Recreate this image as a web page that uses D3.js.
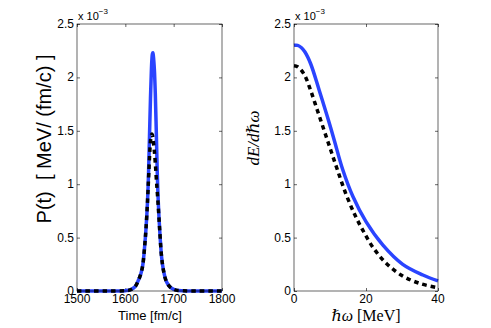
<!DOCTYPE html>
<html>
<head>
<meta charset="utf-8">
<script src="https://cdn.jsdelivr.net/npm/d3@7"></script>
<style>
  body { margin: 0; background: #fff; }
  svg text { font-family: "Liberation Sans", Arial, sans-serif; fill: #000; }
</style>
</head>
<body>
<div id="chart"></div>
<script>
// ---- data (values in units of 1e-3) ----
var timeT = [1500, 1580, 1600, 1610, 1620, 1627, 1632, 1636, 1640, 1643, 1646, 1648, 1650, 1652, 1654, 1655, 1656, 1657, 1658, 1660, 1662, 1664, 1666, 1668, 1671, 1675, 1679, 1684, 1690, 1696, 1705, 1720, 1750, 1800];
var powerBlue = [0, 0, 0.003, 0.01, 0.04, 0.1, 0.16, 0.24, 0.42, 0.6, 0.85, 1.1, 1.45, 1.8, 2.08, 2.17, 2.22, 2.23, 2.2, 2.08, 1.85, 1.5, 1.12, 0.85, 0.58, 0.32, 0.19, 0.1, 0.05, 0.025, 0.008, 0.002, 0, 0];
var powerBlack = [0, 0, 0.003, 0.01, 0.04, 0.1, 0.16, 0.24, 0.42, 0.6, 0.85, 1.05, 1.25, 1.4, 1.46, 1.47, 1.46, 1.44, 1.4, 1.31, 1.2, 1.06, 0.93, 0.8, 0.58, 0.32, 0.19, 0.1, 0.05, 0.025, 0.008, 0.002, 0, 0];

var omegaBlue = [0, 1, 2, 3, 4.6, 7, 9.3, 11.2, 13.5, 16.3, 20, 24.7, 30.2, 35.8, 40];
var spectBlue = [2.30, 2.30, 2.28, 2.24, 2.13, 1.88, 1.63, 1.41, 1.14, 0.89, 0.65, 0.43, 0.25, 0.15, 0.094];
var omegaBlack = [0, 1, 2.8, 4.6, 6.5, 8.4, 10.2, 12.1, 14.4, 16.8, 19.1, 21.9, 25.6, 30.2, 35, 40];
var spectBlack = [2.11, 2.10, 2.03, 1.88, 1.69, 1.50, 1.32, 1.13, 0.91, 0.72, 0.57, 0.41, 0.26, 0.14, 0.07, 0.03];

var yTicks = [0, 0.5, 1, 1.5, 2, 2.5];
var timeTicks = [1500, 1600, 1700, 1800];
var omegaTicks = [0, 20, 40];

var W = 491, H = 328;
var yTop = 24, yBottom = 291;

var svg = d3.select("#chart").append("svg")
    .attr("width", W)
    .attr("height", H);

var y = d3.scaleLinear().domain([0, 2.5]).range([yBottom, yTop]);

function panel(x0, x1, xDomain, xTicks, xFmt) {
  var x = d3.scaleLinear().domain(xDomain).range([x0, x1]);
  var g = svg.append("g");

  // ticks inside on all four sides
  g.append("g").attr("transform", "translate(0," + yBottom + ")")
    .call(d3.axisBottom(x).tickValues(xTicks).tickSize(-3).tickFormat(""))
    .call(a => a.select(".domain").remove());
  g.append("g").attr("transform", "translate(0," + yTop + ")")
    .call(d3.axisTop(x).tickValues(xTicks).tickSize(-3).tickFormat(""))
    .call(a => a.select(".domain").remove());
  g.append("g").attr("transform", "translate(" + x0 + ",0)")
    .call(d3.axisLeft(y).tickValues(yTicks).tickSize(-3).tickFormat(""))
    .call(a => a.select(".domain").remove());
  g.append("g").attr("transform", "translate(" + x1 + ",0)")
    .call(d3.axisRight(y).tickValues(yTicks).tickSize(-3).tickFormat(""))
    .call(a => a.select(".domain").remove());
  g.selectAll(".tick line").attr("stroke", "#000").attr("stroke-width", 0.6);

  // tick labels
  g.selectAll(".ylab").data(yTicks).enter().append("text")
    .attr("x", x0 - 3)
    .attr("y", d => y(d) + 4)
    .attr("text-anchor", "end")
    .attr("font-size", 12)
    .text(d => d);
  g.selectAll(".xlab").data(xTicks).enter().append("text")
    .attr("x", d => x(d))
    .attr("y", yBottom + 12)
    .attr("text-anchor", "middle")
    .attr("font-size", 12)
    .text(xFmt);

  // exponent
  var ex = g.append("text").attr("x", x0 + 1).attr("y", 20).attr("font-size", 11);
  ex.append("tspan").text("x 10");
  ex.append("tspan").attr("dy", -6).attr("font-size", 8).text("\u22123");

  return {x: x, g: g, x0: x0, x1: x1};
}

function drawLine(p, xs, ys, color, dash) {
  var line = d3.line()
    .x(d => p.x(d[0]))
    .y(d => y(d[1]))
    .curve(d3.curveCatmullRom.alpha(0.5));
  p.g.append("path")
    .datum(d3.zip(xs, ys))
    .attr("d", line)
    .attr("fill", "none")
    .attr("stroke", color)
    .attr("stroke-width", 3.5)
    .attr("stroke-dasharray", dash || null);
}

function box(p) {
  p.g.append("rect")
    .attr("x", p.x0).attr("y", yTop)
    .attr("width", p.x1 - p.x0).attr("height", yBottom - yTop)
    .attr("fill", "none").attr("stroke", "#000").attr("stroke-width", 0.6);
}

// left panel
var left = panel(77, 222, [1500, 1800], timeTicks, d => d);
drawLine(left, timeT, powerBlue, "#2a44ff");
drawLine(left, timeT, powerBlack, "#000", "4.5,4");
box(left);

left.g.append("text")
  .attr("x", 150).attr("y", 320)
  .attr("text-anchor", "middle")
  .attr("font-size", 13)
  .text("Time [fm/c]");
left.g.append("text")
  .attr("transform", "translate(51,139) rotate(-90)")
  .attr("text-anchor", "middle")
  .attr("font-size", 20)
  .attr("xml:space", "preserve")
  .text("P(t)  [ MeV/ (fm/c) ]");

// right panel
var right = panel(294, 438, [0, 40], omegaTicks, d => d);
drawLine(right, omegaBlue, spectBlue, "#2a44ff");
drawLine(right, omegaBlack, spectBlack, "#000", "4.5,4");
box(right);

var xl = right.g.append("text")
  .attr("x", 366).attr("y", 321)
  .attr("text-anchor", "middle")
  .attr("font-size", 16)
  .style("font-family", "'Liberation Serif', 'DejaVu Serif', serif");
xl.append("tspan").attr("font-style", "italic").text("\u210F\u03C9");
xl.append("tspan").text(" [MeV]");

right.g.append("text")
  .attr("transform", "translate(259,138) rotate(-90)")
  .attr("text-anchor", "middle")
  .attr("font-size", 17)
  .attr("font-style", "italic")
  .style("font-family", "'Liberation Serif', 'DejaVu Serif', serif")
  .text("dE/d\u210F\u03C9");
</script>
</body>
</html>
